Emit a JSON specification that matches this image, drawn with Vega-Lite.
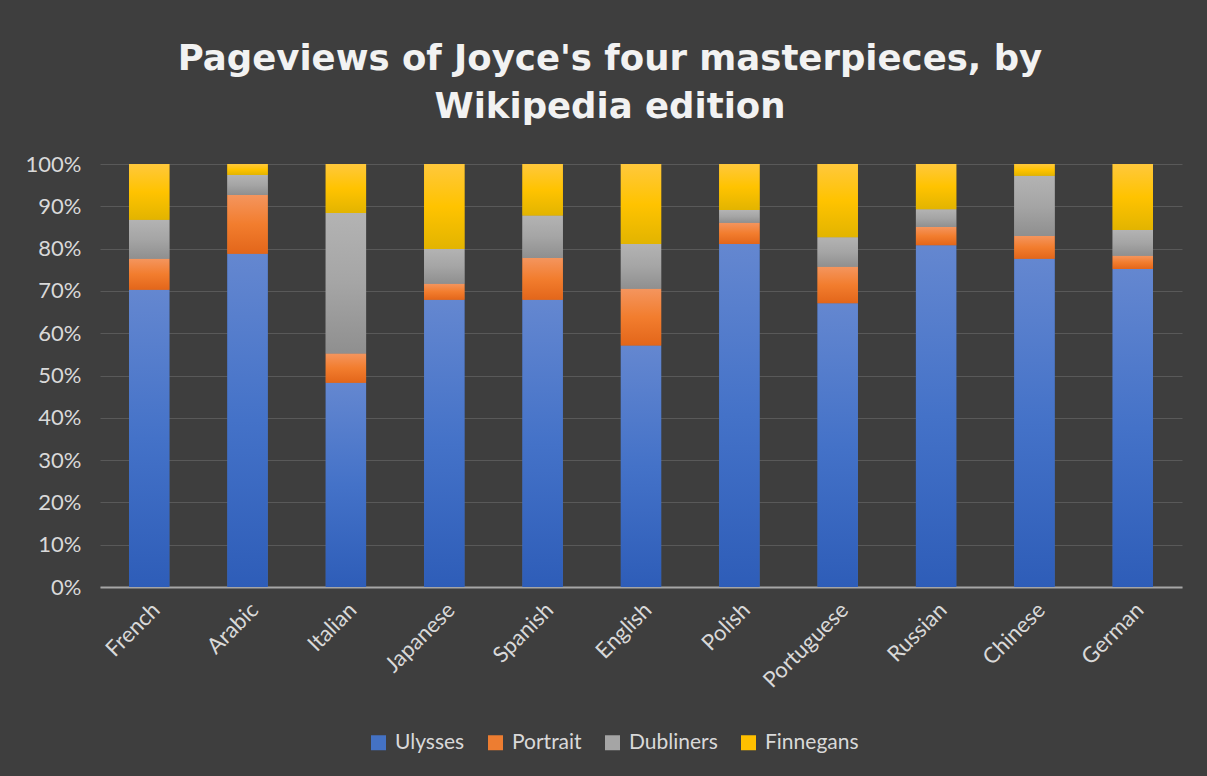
{
  "$schema": "https://vega.github.io/schema/vega-lite/v6.json",
  "width": 1082,
  "height": 423,
  "autosize": "none",
  "padding": {"left": 100, "top": 164, "right": 25, "bottom": 189},
  "background": "#3e3e3e",
  "config": {
    "font": "Lato",
    "view": {"stroke": null},
    "axis": {"labelColor": "#d9d9d9", "labelFont": "Lato", "labelFontSize": 22, "title": null}
  },
  "title": {
    "text": ["Pageviews of Joyce's four masterpieces, by", "Wikipedia edition"],
    "font": "DejaVu Sans",
    "fontSize": 35.5,
    "fontWeight": "bold",
    "color": "#f2f2f2",
    "anchor": "middle",
    "frame": "group",
    "dx": -31,
    "lineHeight": 48,
    "offset": 28
  },
  "data": {
    "values": [
      {"lang": "French", "series": "Ulysses", "o": 1, "v": 70.3},
      {"lang": "French", "series": "Portrait", "o": 2, "v": 7.3},
      {"lang": "French", "series": "Dubliners", "o": 3, "v": 9.2},
      {"lang": "French", "series": "Finnegans", "o": 4, "v": 13.2},
      {"lang": "Arabic", "series": "Ulysses", "o": 1, "v": 78.8},
      {"lang": "Arabic", "series": "Portrait", "o": 2, "v": 13.9},
      {"lang": "Arabic", "series": "Dubliners", "o": 3, "v": 4.7},
      {"lang": "Arabic", "series": "Finnegans", "o": 4, "v": 2.6},
      {"lang": "Italian", "series": "Ulysses", "o": 1, "v": 48.3},
      {"lang": "Italian", "series": "Portrait", "o": 2, "v": 6.9},
      {"lang": "Italian", "series": "Dubliners", "o": 3, "v": 33.2},
      {"lang": "Italian", "series": "Finnegans", "o": 4, "v": 11.6},
      {"lang": "Japanese", "series": "Ulysses", "o": 1, "v": 67.9},
      {"lang": "Japanese", "series": "Portrait", "o": 2, "v": 3.8},
      {"lang": "Japanese", "series": "Dubliners", "o": 3, "v": 8.2},
      {"lang": "Japanese", "series": "Finnegans", "o": 4, "v": 20.1},
      {"lang": "Spanish", "series": "Ulysses", "o": 1, "v": 67.9},
      {"lang": "Spanish", "series": "Portrait", "o": 2, "v": 9.9},
      {"lang": "Spanish", "series": "Dubliners", "o": 3, "v": 10.0},
      {"lang": "Spanish", "series": "Finnegans", "o": 4, "v": 12.2},
      {"lang": "English", "series": "Ulysses", "o": 1, "v": 57.1},
      {"lang": "English", "series": "Portrait", "o": 2, "v": 13.4},
      {"lang": "English", "series": "Dubliners", "o": 3, "v": 10.6},
      {"lang": "English", "series": "Finnegans", "o": 4, "v": 18.9},
      {"lang": "Polish", "series": "Ulysses", "o": 1, "v": 81.1},
      {"lang": "Polish", "series": "Portrait", "o": 2, "v": 5.0},
      {"lang": "Polish", "series": "Dubliners", "o": 3, "v": 3.0},
      {"lang": "Polish", "series": "Finnegans", "o": 4, "v": 10.9},
      {"lang": "Portuguese", "series": "Ulysses", "o": 1, "v": 67.1},
      {"lang": "Portuguese", "series": "Portrait", "o": 2, "v": 8.6},
      {"lang": "Portuguese", "series": "Dubliners", "o": 3, "v": 7.0},
      {"lang": "Portuguese", "series": "Finnegans", "o": 4, "v": 17.3},
      {"lang": "Russian", "series": "Ulysses", "o": 1, "v": 80.8},
      {"lang": "Russian", "series": "Portrait", "o": 2, "v": 4.3},
      {"lang": "Russian", "series": "Dubliners", "o": 3, "v": 4.2},
      {"lang": "Russian", "series": "Finnegans", "o": 4, "v": 10.7},
      {"lang": "Chinese", "series": "Ulysses", "o": 1, "v": 77.6},
      {"lang": "Chinese", "series": "Portrait", "o": 2, "v": 5.4},
      {"lang": "Chinese", "series": "Dubliners", "o": 3, "v": 14.2},
      {"lang": "Chinese", "series": "Finnegans", "o": 4, "v": 2.8},
      {"lang": "German", "series": "Ulysses", "o": 1, "v": 75.2},
      {"lang": "German", "series": "Portrait", "o": 2, "v": 3.1},
      {"lang": "German", "series": "Dubliners", "o": 3, "v": 6.1},
      {"lang": "German", "series": "Finnegans", "o": 4, "v": 15.6}
    ]
  },
  "transform": [
    {"stack": "v", "groupby": ["lang"], "sort": [{"field": "o"}], "as": ["y0", "y1"], "offset": "normalize"}
  ],
  "encoding": {
    "x": {
      "field": "lang", "type": "nominal", "sort": null,
      "scale": {"paddingInner": 0.59, "paddingOuter": 0.295},
      "axis": {"labelAngle": -45, "ticks": false, "domainColor": "#a6a6a6", "domainWidth": 2, "labelPadding": 12, "grid": false}
    },
    "y": {
      "field": "y0", "type": "quantitative",
      "scale": {"domain": [0, 1], "nice": false},
      "axis": {"format": ".0%", "values": [0, 0.1, 0.2, 0.3, 0.4, 0.5, 0.6, 0.7, 0.8, 0.9, 1], "ticks": false, "domain": false, "grid": true, "gridColor": "#595959", "gridWidth": 1, "labelPadding": 19}
    },
    "y2": {"field": "y1"}
  },
  "layer": [
    {
      "mark": {"type": "bar"},
      "encoding": {
        "color": {
          "field": "series", "type": "nominal",
          "scale": {"domain": ["Ulysses", "Portrait", "Dubliners", "Finnegans"], "range": ["#4472c4", "#ed7d31", "#a5a5a5", "#ffc000"]},
          "legend": {
            "title": null, "orient": "none", "direction": "horizontal",
            "legendX": 268, "legendY": 568, "padding": 0,
            "symbolType": "square", "symbolSize": 225, "symbolStrokeWidth": 0,
            "labelFontSize": 21, "labelColor": "#d9d9d9", "labelFont": "Lato",
            "labelOffset": 6, "columnPadding": 20
          }
        }
      }
    },
    {
      "transform": [{"filter": "datum.series === 'Ulysses'"}],
      "mark": {"type": "bar", "fill": {"gradient": "linear", "x1": 0, "y1": 0, "x2": 0, "y2": 1, "stops": [{"offset": 0, "color": "#6487d0"}, {"offset": 0.5, "color": "#4472c8"}, {"offset": 1, "color": "#2e5db8"}]}}
    },
    {
      "transform": [{"filter": "datum.series === 'Portrait'"}],
      "mark": {"type": "bar", "fill": {"gradient": "linear", "x1": 0, "y1": 0, "x2": 0, "y2": 1, "stops": [{"offset": 0, "color": "#f4955e"}, {"offset": 0.5, "color": "#f27d2e"}, {"offset": 1, "color": "#e3661a"}]}}
    },
    {
      "transform": [{"filter": "datum.series === 'Dubliners'"}],
      "mark": {"type": "bar", "fill": {"gradient": "linear", "x1": 0, "y1": 0, "x2": 0, "y2": 1, "stops": [{"offset": 0, "color": "#b3b3b3"}, {"offset": 0.5, "color": "#a5a5a5"}, {"offset": 1, "color": "#8f8f8f"}]}}
    },
    {
      "transform": [{"filter": "datum.series === 'Finnegans'"}],
      "mark": {"type": "bar", "fill": {"gradient": "linear", "x1": 0, "y1": 0, "x2": 0, "y2": 1, "stops": [{"offset": 0, "color": "#ffc83c"}, {"offset": 0.5, "color": "#ffc300"}, {"offset": 1, "color": "#e2b400"}]}}
    }
  ]
}
